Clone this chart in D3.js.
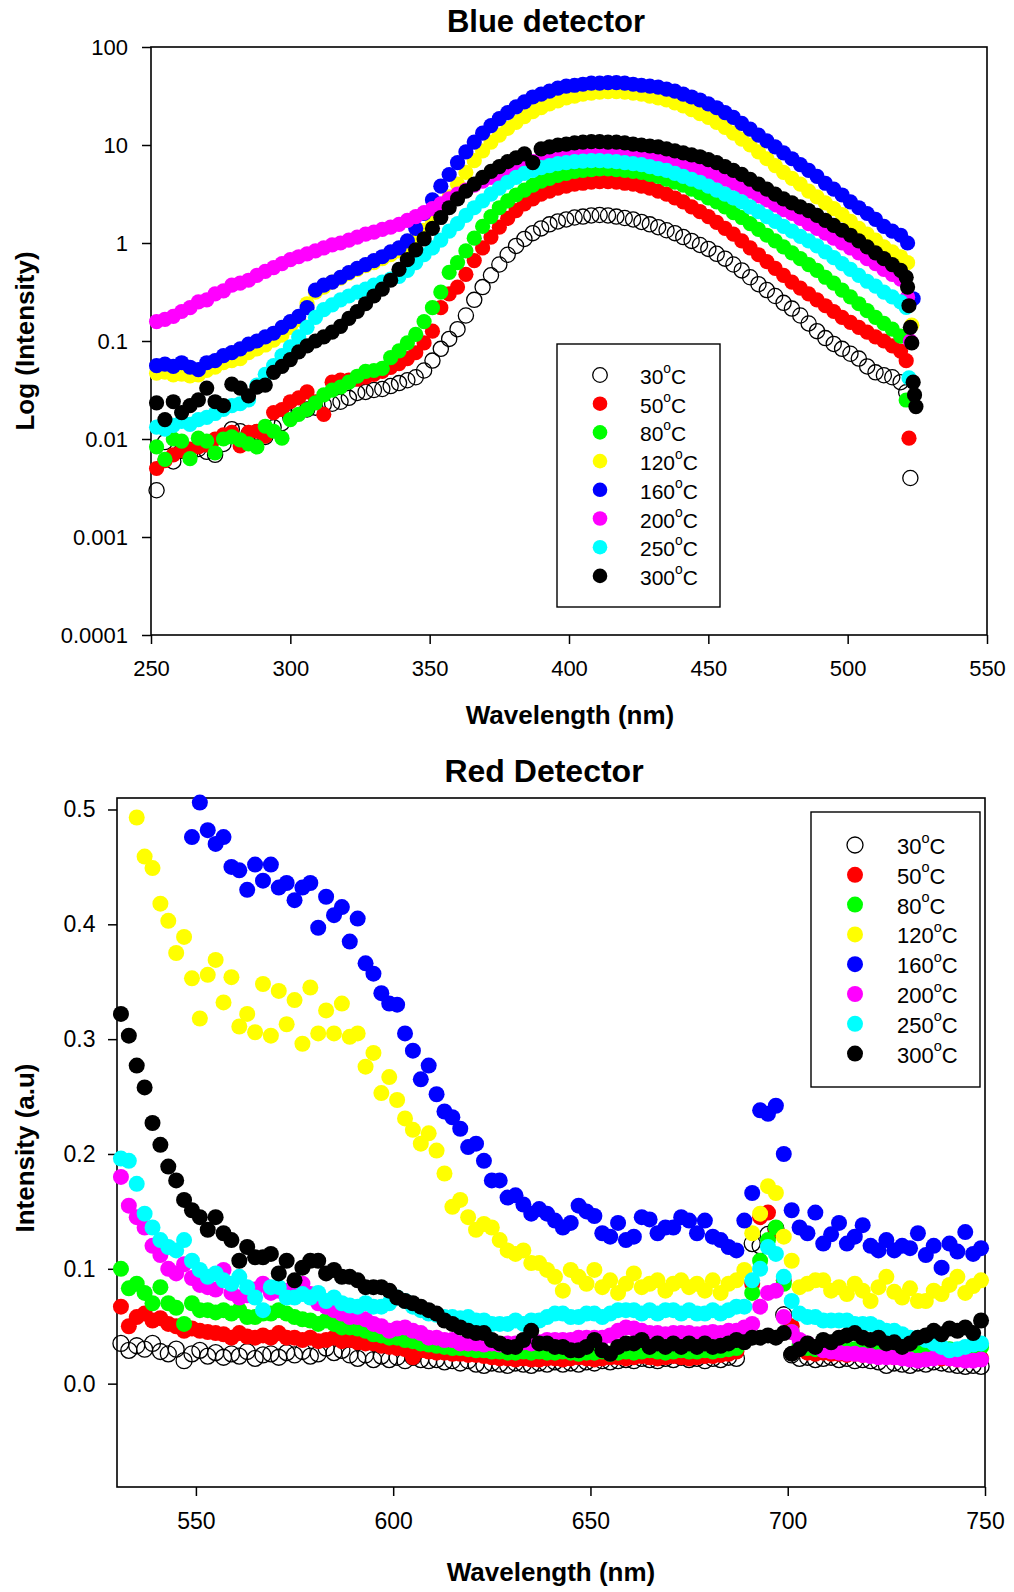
<!DOCTYPE html>
<html><head><meta charset="utf-8">
<script src="https://cdn.jsdelivr.net/npm/d3@7"></script>
<style>
body{margin:0;background:#fff;}
svg{display:block;font-family:"Liberation Sans",Arial,sans-serif;}
</style></head><body>
<svg id="chart" width="1014" height="1592"></svg>
<script>
// ---------- shared ----------
const temps = ["30","50","80","120","160","200","250","300"];
const seriesColors = ["none","#ff0000","#00ff00","#ffff00","#0000ff","#ff00ff","#00ffff","#000000"];

// ---------- Blue detector (log scale) ----------
const blueYTicks = [0.0001,0.001,0.01,0.1,1,10,100];
const blueYTickLabels = ["0.0001","0.001","0.01","0.1","1","10","100"];
const blueXTicks = [250,300,350,400,450,500,550];
const blueWl = [
252,255,258,261,264,267,270,273,276,279,
282,285,288,291,294,297,300,303,306,309,
312,315,318,321,324,327,330,333,336,339,
342,345,348,351,354,357,360,363,366,369,
372,375,378,381,384,387,390,393,396,399,
402,405,408,411,414,417,420,423,426,429,
432,435,438,441,444,447,450,453,456,459,
462,465,468,471,474,477,480,483,486,489,
492,495,498,501,504,507,510,513,516,519];
const blue30 = [
0.0030,0.0093,0.0059,0.0076,0.0071,0.0079,0.0074,0.0069,0.0089,0.0126,
0.0120,0.0112,0.0117,0.0105,0.0132,0.0145,0.0166,0.0191,0.0200,0.0209,
0.0224,0.0229,0.0240,0.0263,0.0295,0.0302,0.0316,0.0324,0.0347,0.0372,
0.0398,0.0427,0.0500,0.0631,0.0832,0.105,0.132,0.182,0.263,0.355,
0.468,0.603,0.759,0.933,1.10,1.26,1.41,1.55,1.66,1.74,
1.82,1.86,1.91,1.93,1.91,1.86,1.80,1.74,1.64,1.55,
1.45,1.35,1.26,1.15,1.05,0.955,0.871,0.776,0.692,0.603,
0.525,0.447,0.380,0.331,0.288,0.245,0.214,0.182,0.151,0.126,
0.107,0.0933,0.0832,0.0741,0.0661,0.0550,0.0479,0.0447,0.0427,0.0380];
const blue50 = [
0.0050,0.0060,0.0069,0.0076,0.0079,0.0083,0.0087,0.0100,0.0110,0.0117,
0.0085,0.0117,0.0120,0.0107,0.0186,0.0200,0.0240,0.0263,0.0302,0.0240,
0.0178,0.0380,0.0398,0.0398,0.0407,0.0427,0.0457,0.0490,0.0537,0.0589,
0.0661,0.0759,0.0955,0.126,0.219,0.302,0.355,0.479,0.661,0.891,
1.15,1.45,1.78,2.14,2.51,2.82,3.16,3.39,3.63,3.80,
3.98,4.07,4.17,4.22,4.22,4.17,4.07,3.98,3.80,3.63,
3.39,3.16,2.88,2.63,2.34,2.09,1.86,1.62,1.41,1.23,
1.05,0.891,0.759,0.646,0.550,0.468,0.398,0.347,0.302,0.263,
0.229,0.200,0.174,0.155,0.138,0.123,0.110,0.100,0.089,0.079];
const blue80 = [
0.0083,0.0062,0.0100,0.0095,0.0063,0.0102,0.0095,0.0072,0.0100,0.0105,
0.0098,0.0089,0.0083,0.0135,0.0120,0.0102,0.0158,0.0178,0.0200,0.0234,
0.0282,0.0316,0.0339,0.0380,0.0437,0.0490,0.0500,0.0525,0.0676,0.0794,
0.0955,0.117,0.158,0.219,0.316,0.501,0.631,0.832,1.12,1.48,
1.86,2.29,2.69,3.09,3.47,3.89,4.27,4.57,4.90,5.13,
5.37,5.50,5.62,5.69,5.69,5.62,5.50,5.37,5.25,5.01,
4.79,4.47,4.17,3.89,3.55,3.24,2.88,2.63,2.34,2.04,
1.82,1.58,1.38,1.20,1.05,0.912,0.794,0.692,0.603,0.525,
0.447,0.389,0.331,0.282,0.240,0.204,0.174,0.151,0.132,0.112];
const blue120 = [
0.047,0.048,0.045,0.046,0.044,0.045,0.050,0.054,0.060,0.063,
0.066,0.076,0.083,0.091,0.102,0.115,0.138,0.166,0.240,0.316,
0.355,0.398,0.437,0.490,0.537,0.589,0.631,0.692,0.759,0.832,
0.955,1.12,1.35,1.66,2.14,2.95,3.98,5.25,6.92,8.71,
10.7,12.6,14.8,17.0,19.5,21.9,24.0,26.3,28.2,30.2,
31.6,33.1,33.9,34.7,35.1,35.1,34.7,33.9,33.1,31.6,
30.2,28.8,26.9,25.1,22.9,20.9,19.1,17.0,15.1,13.2,
11.5,10.0,8.51,7.24,6.17,5.25,4.57,3.98,3.39,2.95,
2.57,2.24,1.95,1.66,1.41,1.23,1.07,0.912,0.813,0.724];
const blue160 = [
0.056,0.058,0.055,0.060,0.054,0.051,0.060,0.063,0.071,0.076,
0.083,0.093,0.100,0.110,0.120,0.138,0.158,0.178,0.219,0.331,
0.372,0.398,0.447,0.500,0.550,0.603,0.661,0.724,0.813,0.891,
1.05,1.41,2.00,2.75,3.80,5.00,6.60,8.50,10.7,13.2,
15.8,18.6,21.4,24.5,27.5,30.9,33.1,35.5,38.0,39.8,
40.7,41.7,42.7,42.7,43.2,43.2,42.7,41.7,40.7,39.8,
38.9,37.2,35.5,33.1,30.9,28.8,26.3,24.0,21.4,19.1,
16.6,14.5,12.6,11.0,9.55,8.32,7.24,6.31,5.50,4.79,
4.07,3.55,3.09,2.63,2.29,2.00,1.74,1.48,1.32,1.20];
const blue200 = [
0.158,0.166,0.178,0.200,0.219,0.251,0.263,0.302,0.324,0.372,
0.389,0.417,0.468,0.513,0.562,0.617,0.676,0.724,0.776,0.832,
0.891,0.955,1.00,1.07,1.15,1.23,1.29,1.38,1.45,1.55,
1.70,1.86,2.04,2.24,2.51,2.82,3.16,3.47,3.89,4.27,
4.68,5.01,5.37,5.89,6.31,6.76,7.08,7.41,7.76,7.94,
8.13,8.32,8.41,8.51,8.51,8.41,8.32,8.13,7.94,7.76,
7.41,7.08,6.76,6.46,6.03,5.62,5.25,4.90,4.47,4.07,
3.72,3.39,3.02,2.75,2.45,2.19,2.00,1.78,1.58,1.41,
1.26,1.12,1.00,0.891,0.794,0.692,0.617,0.537,0.479,0.427];
const blue250 = [
0.0132,0.0126,0.0138,0.0151,0.0141,0.0158,0.0166,0.0182,0.0200,0.0219,
0.0229,0.0251,0.0355,0.0457,0.0562,0.0708,0.0871,0.110,0.138,0.174,
0.209,0.234,0.263,0.288,0.316,0.339,0.372,0.398,0.427,0.457,
0.525,0.631,0.759,0.891,1.07,1.32,1.58,1.91,2.29,2.69,
3.16,3.63,4.17,4.68,5.13,5.50,5.89,6.17,6.46,6.61,
6.76,6.84,6.92,6.92,6.84,6.76,6.61,6.46,6.31,6.03,
5.75,5.50,5.13,4.79,4.47,4.17,3.80,3.47,3.16,2.88,
2.63,2.34,2.09,1.86,1.66,1.48,1.32,1.17,1.05,0.933,
0.813,0.708,0.617,0.537,0.468,0.407,0.363,0.316,0.282,0.251];
const blue300 = [
0.0234,0.0158,0.0240,0.0186,0.0219,0.0251,0.0331,0.0240,0.0219,0.0363,
0.0331,0.0275,0.0339,0.0355,0.0479,0.0550,0.0646,0.0776,0.0891,0.100,
0.110,0.123,0.141,0.170,0.200,0.240,0.288,0.339,0.417,0.537,
0.676,0.851,1.10,1.41,1.82,2.29,2.82,3.39,3.98,4.68,
5.37,6.03,6.76,7.41,8.13,6.61,9.12,9.55,10.0,10.2,
10.5,10.7,10.8,10.8,10.7,10.7,10.5,10.2,10.0,9.77,
9.55,9.12,8.71,8.32,7.94,7.59,7.08,6.61,6.03,5.50,
5.01,4.47,3.98,3.55,3.16,2.82,2.57,2.34,2.14,1.91,
1.70,1.51,1.35,1.20,1.05,0.912,0.794,0.692,0.603,0.525];
// end-of-range points [wavelength, intensity]
const blueTail30 = [[521,0.030],[522.5,0.0040]];
const blueTail50 = [[521,0.063],[522,0.0102]];
const blueTail80 = [[521,0.025]];
const blueTail120 = [[521.5,0.63],[523,0.145]];
const blueTail160 = [[521.5,1.0],[523.5,0.27]];
const blueTail200 = [[521.5,0.28],[522.5,0.10]];
const blueTail250 = [[521,0.22],[522,0.042]];
const blueTail300 = [[521,0.447],[521.5,0.355],[522,0.229],[522.5,0.138],[523,0.0955],[523.5,0.038],[524,0.0282],[524.5,0.0214]];

// ---------- Red detector (linear) ----------
const redYTicks = [0.0,0.1,0.2,0.3,0.4,0.5];
const redXTicks = [550,600,650,700,750];
const redWl = [
531,533,535,537,539,541,543,545,547,549,
551,553,555,557,559,561,563,565,567,569,
571,573,575,577,579,581,583,585,587,589,
591,593,595,597,599,601,603,605,607,609,
611,613,615,617,619,621,623,625,627,629,
631,633,635,637,639,641,643,645,647,649,
651,653,655,657,659,661,663,665,667,669,
671,673,675,677,679,681,683,685,687,689,
691,693,695,697,699,701,703,705,707,709,
711,713,715,717,719,721,723,725,727,729,
731,733,735,737,739,741,743,745,747,749];
const red30 = [
0.035,0.029,0.033,0.030,0.035,0.028,0.026,0.030,0.020,0.026,
0.029,0.024,0.027,0.023,0.026,0.024,0.028,0.022,0.025,0.026,
0.023,0.027,0.025,0.028,0.024,0.026,0.031,0.027,0.029,0.025,
0.022,0.025,0.021,0.024,0.021,0.023,0.020,0.023,0.021,0.020,
0.021,0.019,0.020,0.018,0.020,0.017,0.016,0.018,0.017,0.016,
0.018,0.017,0.016,0.018,0.017,0.019,0.017,0.018,0.017,0.019,
0.018,0.020,0.019,0.020,0.021,0.020,0.022,0.021,0.020,0.022,
0.021,0.023,0.021,0.022,0.020,0.022,0.021,0.023,0.022,0.040,
0.122,0.120,0.130,0.135,0.060,0.025,0.022,0.023,0.021,0.022,
0.023,0.021,0.022,0.020,0.021,0.020,0.019,0.016,0.018,0.017,
0.016,0.018,0.017,0.019,0.018,0.017,0.016,0.015,0.016,0.015];
const red50 = [
0.067,0.050,0.058,0.061,0.055,0.057,0.052,0.050,0.046,0.048,
0.046,0.045,0.044,0.043,0.040,0.044,0.041,0.040,0.042,0.040,
0.044,0.040,0.040,0.038,0.040,0.037,0.038,0.040,0.037,0.038,
0.036,0.035,0.035,0.033,0.032,0.031,0.030,0.023,0.029,0.028,
0.027,0.027,0.026,0.026,0.025,0.025,0.024,0.023,0.022,0.022,
0.021,0.022,0.021,0.021,0.022,0.022,0.021,0.022,0.023,0.022,
0.021,0.022,0.023,0.023,0.022,0.023,0.024,0.023,0.022,0.023,
0.024,0.023,0.022,0.023,0.024,0.024,0.025,0.026,0.028,0.045,
0.087,0.145,0.149,0.134,0.090,0.050,0.030,0.027,0.026,0.027,
0.026,0.026,0.025,0.026,0.025,0.025,0.024,0.024,0.023,0.024,
0.023,0.022,0.023,0.023,0.022,0.022,0.021,0.022,0.021,0.022];
const red80 = [
0.100,0.083,0.087,0.079,0.070,0.084,0.070,0.066,0.052,0.070,
0.064,0.064,0.062,0.064,0.061,0.064,0.058,0.058,0.061,0.061,
0.064,0.061,0.058,0.056,0.055,0.052,0.055,0.052,0.049,0.049,
0.048,0.046,0.043,0.042,0.040,0.040,0.038,0.037,0.035,0.034,
0.033,0.032,0.031,0.031,0.030,0.029,0.029,0.028,0.028,0.027,
0.027,0.028,0.027,0.028,0.027,0.027,0.028,0.027,0.026,0.027,
0.027,0.028,0.026,0.027,0.028,0.027,0.028,0.029,0.028,0.027,
0.028,0.029,0.028,0.028,0.029,0.028,0.029,0.030,0.031,0.040,
0.079,0.107,0.125,0.136,0.087,0.045,0.033,0.031,0.030,0.030,
0.030,0.029,0.029,0.030,0.029,0.029,0.030,0.029,0.029,0.028,
0.029,0.030,0.029,0.029,0.030,0.030,0.029,0.030,0.030,0.032];
const red120 = [
null,null,0.493,0.459,0.449,0.418,0.403,0.375,0.389,0.353,
0.318,0.356,0.369,0.332,0.354,0.311,0.322,0.306,0.348,0.303,
0.342,0.313,0.334,0.296,0.345,0.305,0.325,0.305,0.331,0.302,
0.305,0.276,0.288,0.253,0.267,0.247,0.231,0.221,0.209,0.218,
0.203,0.183,0.154,0.160,0.145,0.134,0.139,0.136,0.125,0.116,
0.113,0.116,0.105,0.105,0.099,0.093,0.081,0.099,0.093,0.087,
0.099,0.084,0.090,0.079,0.087,0.096,0.084,0.087,0.090,0.081,
0.087,0.090,0.084,0.087,0.081,0.090,0.079,0.087,0.090,0.099,
0.131,0.148,0.172,0.166,0.128,0.107,0.084,0.087,0.090,0.090,
0.081,0.084,0.078,0.087,0.081,0.072,0.084,0.093,0.080,0.075,
0.083,0.072,0.072,0.081,0.078,0.086,0.093,0.079,0.085,0.090];
const red160 = [
null,null,null,null,null,null,null,null,null,0.476,
0.506,0.482,0.470,0.476,0.450,0.447,0.430,0.452,0.438,0.452,
0.432,0.436,0.421,0.432,0.436,0.397,0.424,0.408,0.415,0.385,
0.405,0.366,0.357,0.340,0.331,0.330,0.305,0.290,0.265,0.277,
0.252,0.237,0.232,0.222,0.206,0.209,0.194,0.177,0.177,0.162,
0.164,0.156,0.148,0.152,0.148,0.142,0.136,0.140,0.155,0.150,
0.146,0.131,0.128,0.140,0.125,0.128,0.145,0.143,0.131,0.136,
0.136,0.145,0.142,0.131,0.142,0.128,0.125,0.119,0.116,0.142,
0.166,0.238,0.235,0.242,0.200,0.151,0.136,0.131,0.149,0.122,
0.130,0.140,0.122,0.128,0.138,0.120,0.116,0.125,0.116,0.120,
0.118,0.131,0.112,0.120,0.101,0.122,0.115,0.132,0.113,0.118];
const red200 = [
0.180,0.155,0.145,0.136,0.120,0.112,0.100,0.096,0.104,0.092,
0.086,0.084,0.082,0.099,0.079,0.075,0.077,0.082,0.087,0.079,
0.081,0.081,0.084,0.087,0.078,0.070,0.067,0.064,0.061,0.058,
0.058,0.056,0.052,0.050,0.046,0.048,0.049,0.046,0.044,0.040,
0.040,0.038,0.038,0.035,0.035,0.035,0.034,0.035,0.034,0.035,
0.035,0.036,0.035,0.036,0.038,0.038,0.038,0.038,0.040,0.040,
0.040,0.040,0.042,0.046,0.049,0.048,0.046,0.044,0.044,0.043,
0.044,0.044,0.044,0.043,0.044,0.045,0.044,0.046,0.046,0.049,
0.052,0.067,0.079,0.081,0.058,0.045,0.038,0.035,0.032,0.029,
0.028,0.027,0.026,0.026,0.025,0.024,0.023,0.023,0.023,0.022,
0.021,0.020,0.021,0.022,0.023,0.022,0.021,0.020,0.020,0.021];
const red250 = [
0.196,0.194,0.174,0.148,0.136,0.125,0.119,0.116,0.125,0.107,
0.099,0.093,0.096,0.090,0.087,0.093,0.084,0.075,0.064,0.084,
0.084,0.075,0.075,0.078,0.075,0.079,0.072,0.075,0.070,0.068,
0.067,0.070,0.067,0.067,0.070,0.075,0.072,0.067,0.064,0.061,
0.060,0.058,0.058,0.057,0.058,0.055,0.055,0.052,0.052,0.052,
0.055,0.052,0.055,0.055,0.058,0.061,0.061,0.058,0.058,0.061,
0.061,0.058,0.061,0.064,0.064,0.064,0.061,0.064,0.061,0.064,
0.064,0.061,0.064,0.061,0.061,0.064,0.061,0.064,0.067,0.067,
0.090,0.100,0.119,0.113,0.093,0.072,0.061,0.058,0.058,0.055,
0.055,0.055,0.055,0.052,0.052,0.052,0.049,0.046,0.046,0.043,
0.040,0.040,0.038,0.035,0.032,0.029,0.030,0.032,0.034,0.035];
const red300 = [
0.322,0.303,0.277,0.258,0.227,0.208,0.189,0.177,0.160,0.151,
0.145,0.134,0.145,0.131,0.125,0.107,0.119,0.110,0.110,0.113,
0.096,0.107,0.090,0.101,0.107,0.107,0.096,0.099,0.093,0.093,
0.090,0.084,0.084,0.084,0.081,0.075,0.072,0.070,0.067,0.064,
0.061,0.055,0.052,0.049,0.046,0.044,0.044,0.038,0.035,0.032,
0.032,0.038,0.046,0.035,0.035,0.032,0.032,0.029,0.029,0.032,
0.038,0.029,0.026,0.032,0.035,0.035,0.038,0.032,0.035,0.032,
0.035,0.032,0.035,0.032,0.035,0.032,0.033,0.035,0.038,0.036,
0.040,0.040,0.042,0.040,0.044,0.026,0.030,0.035,0.032,0.038,
0.036,0.040,0.042,0.044,0.040,0.038,0.040,0.035,0.036,0.032,
0.035,0.040,0.042,0.046,0.043,0.048,0.046,0.049,0.044,0.055];

// ---------- build ----------
const svg = d3.select("#chart");
const FONT = '"Liberation Sans", Arial, sans-serif';

function makeSeries(wl, vals, tail) {
  const pts = [];
  vals.forEach((v, i) => { if (v !== null) pts.push({x: wl[i], y: v}); });
  (tail || []).forEach(p => pts.push({x: p[0], y: p[1]}));
  return pts;
}

function drawPanel(cfg) {
  const g = svg.append("g");
  const x = cfg.x, y = cfg.y;
  const [x0, x1] = x.range(), [yb, yt] = y.range();
  const ax = g.append("g").attr("transform", `translate(0,${yb})`)
    .call(d3.axisBottom(x).tickValues(cfg.xTicks).tickSize(9).tickPadding(cfg.xPad).tickSizeOuter(0));
  const ay = g.append("g").attr("transform", `translate(${x0},0)`)
    .call(d3.axisLeft(y).tickValues(cfg.yTicks).tickFormat(cfg.yFormat).tickSize(9).tickPadding(cfg.yPad).tickSizeOuter(0));
  [ax, ay].forEach(a => {
    a.select(".domain").remove();
    a.selectAll(".tick line").attr("stroke", "#000").attr("stroke-width", 1.5);
    a.selectAll(".tick text").attr("font-family", FONT).attr("font-size", cfg.tickFont).attr("fill", "#000");
  });
  g.append("rect").attr("x", x0).attr("y", yt).attr("width", x1 - x0).attr("height", yb - yt)
    .attr("fill", "none").attr("stroke", "#000").attr("stroke-width", 1.6);
  cfg.series.forEach((pts, i) => {
    const open = seriesColors[i] === "none";
    g.append("g").selectAll("circle").data(pts).join("circle")
      .attr("cx", d => x(d.x)).attr("cy", d => y(d.y)).attr("r", cfg.r)
      .attr("fill", open ? "none" : seriesColors[i])
      .attr("stroke", open ? "#000" : "none").attr("stroke-width", open ? 1.3 : 0);
  });
  g.append("text").attr("x", cfg.titleX).attr("y", cfg.titleY).attr("text-anchor", "middle")
    .attr("font-family", FONT).attr("font-weight", "bold").attr("font-size", cfg.titleFont).text(cfg.title);
  g.append("text").attr("x", cfg.xLabelX).attr("y", cfg.xLabelY).attr("text-anchor", "middle")
    .attr("font-family", FONT).attr("font-weight", "bold").attr("font-size", 26).text("Wavelength (nm)");
  g.append("text").attr("transform", `translate(34,${cfg.yLabelY}) rotate(-90)`).attr("text-anchor", "middle")
    .attr("font-family", FONT).attr("font-weight", "bold").attr("font-size", 26).text(cfg.yLabel);
  const L = cfg.legend;
  g.append("rect").attr("x", L.x).attr("y", L.y).attr("width", L.w).attr("height", L.h)
    .attr("fill", "#fff").attr("stroke", "#000").attr("stroke-width", 1.4);
  temps.forEach((t, i) => {
    const cy = L.y0 + i * L.dy;
    const open = seriesColors[i] === "none";
    g.append("circle").attr("cx", L.sx).attr("cy", cy).attr("r", L.r)
      .attr("fill", open ? "#fff" : seriesColors[i]).attr("stroke", open ? "#000" : "none").attr("stroke-width", 1.3);
    const tx = g.append("text").attr("x", L.tx).attr("y", cy + 9).attr("font-family", FONT).attr("font-size", L.font);
    tx.append("tspan").text(t);
    tx.append("tspan").attr("font-size", L.font * 0.66).attr("dy", -L.font * 0.52).text("o");
    tx.append("tspan").attr("dy", L.font * 0.52).text("C");
  });
}

const bx = d3.scaleLinear().domain([250, 550]).range([151, 987]);
const by = d3.scaleLog().domain([0.0001, 100]).range([635, 47]);
drawPanel({
  x: bx, y: by, xTicks: blueXTicks, yTicks: blueYTicks,
  yFormat: (d, i) => blueYTickLabels[i], xPad: 16, yPad: 14, tickFont: 22, r: 7.6,
  series: [
    makeSeries(blueWl, blue30, blueTail30), makeSeries(blueWl, blue50, blueTail50),
    makeSeries(blueWl, blue80, blueTail80), makeSeries(blueWl, blue120, blueTail120),
    makeSeries(blueWl, blue160, blueTail160), makeSeries(blueWl, blue200, blueTail200),
    makeSeries(blueWl, blue250, blueTail250), makeSeries(blueWl, blue300, blueTail300)],
  title: "Blue detector", titleX: 546, titleY: 32, titleFont: 31,
  xLabelX: 570, xLabelY: 724, yLabel: "Log (Intensity)", yLabelY: 341,
  legend: {x: 557, y: 344, w: 163, h: 263, sx: 600, y0: 375, dy: 28.7, r: 7.3, tx: 640, font: 21}
});

const rx = d3.scaleLinear().domain([530, 750]).range([117, 985]);
const ry = d3.scaleLinear().domain([-0.09, 0.51]).range([1487, 798]);
drawPanel({
  x: rx, y: ry, xTicks: redXTicks, yTicks: redYTicks,
  yFormat: d3.format(".1f"), xPad: 17, yPad: 12.5, tickFont: 23, r: 8,
  series: [red30, red50, red80, red120, red160, red200, red250, red300].map(v => makeSeries(redWl, v)),
  title: "Red Detector", titleX: 544, titleY: 782, titleFont: 32,
  xLabelX: 551, xLabelY: 1581, yLabel: "Intensity (a.u)", yLabelY: 1148,
  legend: {x: 811, y: 812, w: 169, h: 275, sx: 855, y0: 845, dy: 29.8, r: 8, tx: 897, font: 22}
});
</script></body></html>
